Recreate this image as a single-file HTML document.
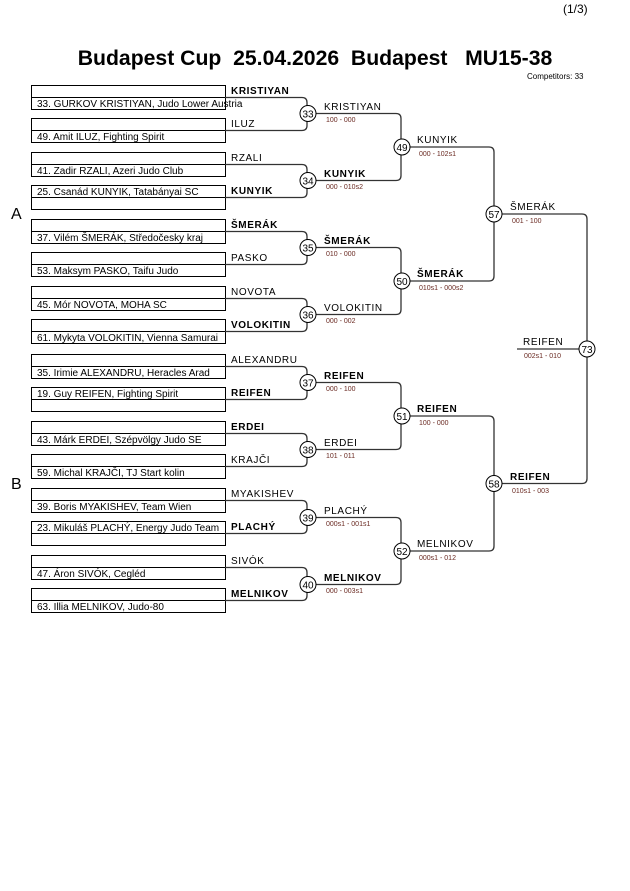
<!DOCTYPE html>
<html><head><meta charset="utf-8"><style>
html,body{margin:0;padding:0;background:#fff;}
svg{display:block;font-family:"Liberation Sans",Arial,sans-serif;}
.e{font-size:10px;fill:#000;}
.l{font-size:10px;fill:#000;letter-spacing:0.6px;}
.b{font-weight:bold;}
.s{font-size:7px;fill:#6a2a22;}
.c{font-size:10px;fill:#000;text-anchor:middle;}
.t{white-space:pre;}
</style></head><body>
<svg width="630" height="891" viewBox="0 0 630 891" xmlns="http://www.w3.org/2000/svg">
<text x="563" y="13" font-size="12">(1/3)</text>
<text class="t" x="315" y="65" font-size="21.2" font-weight="bold" text-anchor="middle" xml:space="preserve">Budapest Cup  25.04.2026  Budapest   MU15-38</text>
<text x="527" y="79" font-size="8">Competitors: 33</text>
<text x="11" y="219" font-size="16">A</text>
<text x="11" y="489" font-size="16">B</text>

<g fill="none" stroke="#000" stroke-width="1">
<rect x="31.5" y="85.5" width="194" height="24"/><line x1="31.5" y1="97.5" x2="225.5" y2="97.5"/>
<rect x="31.5" y="118.5" width="194" height="24"/><line x1="31.5" y1="130.5" x2="225.5" y2="130.5"/>
<rect x="31.5" y="152.5" width="194" height="24"/><line x1="31.5" y1="164.5" x2="225.5" y2="164.5"/>
<rect x="31.5" y="185.5" width="194" height="24"/><line x1="31.5" y1="197.5" x2="225.5" y2="197.5"/>
<rect x="31.5" y="219.5" width="194" height="24"/><line x1="31.5" y1="231.5" x2="225.5" y2="231.5"/>
<rect x="31.5" y="252.5" width="194" height="24"/><line x1="31.5" y1="264.5" x2="225.5" y2="264.5"/>
<rect x="31.5" y="286.5" width="194" height="24"/><line x1="31.5" y1="298.5" x2="225.5" y2="298.5"/>
<rect x="31.5" y="319.5" width="194" height="24"/><line x1="31.5" y1="331.5" x2="225.5" y2="331.5"/>
<rect x="31.5" y="354.5" width="194" height="24"/><line x1="31.5" y1="366.5" x2="225.5" y2="366.5"/>
<rect x="31.5" y="387.5" width="194" height="24"/><line x1="31.5" y1="399.5" x2="225.5" y2="399.5"/>
<rect x="31.5" y="421.5" width="194" height="24"/><line x1="31.5" y1="433.5" x2="225.5" y2="433.5"/>
<rect x="31.5" y="454.5" width="194" height="24"/><line x1="31.5" y1="466.5" x2="225.5" y2="466.5"/>
<rect x="31.5" y="488.5" width="194" height="24"/><line x1="31.5" y1="500.5" x2="225.5" y2="500.5"/>
<rect x="31.5" y="521.5" width="194" height="24"/><line x1="31.5" y1="533.5" x2="225.5" y2="533.5"/>
<rect x="31.5" y="555.5" width="194" height="24"/><line x1="31.5" y1="567.5" x2="225.5" y2="567.5"/>
<rect x="31.5" y="588.5" width="194" height="24"/><line x1="31.5" y1="600.5" x2="225.5" y2="600.5"/>
</g>
<g fill="none" stroke="#333" stroke-width="1.3">
<path d="M225,97.5H302Q307,97.5 307,102.5V125.5Q307,130.5 302,130.5H225"/>
<path d="M225,164.5H302Q307,164.5 307,169.5V192.5Q307,197.5 302,197.5H225"/>
<path d="M225,231.5H302Q307,231.5 307,236.5V259.5Q307,264.5 302,264.5H225"/>
<path d="M225,298.5H302Q307,298.5 307,303.5V326.5Q307,331.5 302,331.5H225"/>
<path d="M225,366.5H302Q307,366.5 307,371.5V394.5Q307,399.5 302,399.5H225"/>
<path d="M225,433.5H302Q307,433.5 307,438.5V461.5Q307,466.5 302,466.5H225"/>
<path d="M225,500.5H302Q307,500.5 307,505.5V528.5Q307,533.5 302,533.5H225"/>
<path d="M225,567.5H302Q307,567.5 307,572.5V595.5Q307,600.5 302,600.5H225"/>
<path d="M308,113.5H396Q401,113.5 401,118.5V175.5Q401,180.5 396,180.5H308"/>
<path d="M308,247.5H396Q401,247.5 401,252.5V309.5Q401,314.5 396,314.5H308"/>
<path d="M308,382.5H396Q401,382.5 401,387.5V444.5Q401,449.5 396,449.5H308"/>
<path d="M308,517.5H396Q401,517.5 401,522.5V579.5Q401,584.5 396,584.5H308"/>
<path d="M402,147H489Q494,147 494,152V276Q494,281 489,281H402"/>
<path d="M402,416H489Q494,416 494,421V546Q494,551 489,551H402"/>
<path d="M494,214H582Q587,214 587,219V478.5Q587,483.5 582,483.5H494"/>
<line x1="517" y1="349" x2="587" y2="349"/>
</g>
<g fill="#fff" stroke="#000" stroke-width="1">
<circle cx="308" cy="113.5" r="8"/><circle cx="308" cy="180.5" r="8"/><circle cx="308" cy="247.5" r="8"/><circle cx="308" cy="314.5" r="8"/>
<circle cx="308" cy="382.5" r="8"/><circle cx="308" cy="449.5" r="8"/><circle cx="308" cy="517.5" r="8"/><circle cx="308" cy="584.5" r="8"/>
<circle cx="402" cy="147" r="8"/><circle cx="402" cy="281" r="8"/><circle cx="402" cy="416" r="8"/><circle cx="402" cy="551" r="8"/>
<circle cx="494" cy="214" r="8"/><circle cx="494" cy="483.5" r="8"/>
<circle cx="587" cy="349" r="8"/>
</g>
<g class="c">
<text x="308" y="117.5">33</text><text x="308" y="184.5">34</text><text x="308" y="251.5">35</text><text x="308" y="318.5">36</text>
<text x="308" y="386.5">37</text><text x="308" y="453.5">38</text><text x="308" y="521.5">39</text><text x="308" y="588.5">40</text>
<text x="402" y="151">49</text><text x="402" y="285">50</text><text x="402" y="420">51</text><text x="402" y="555">52</text>
<text x="494" y="218">57</text><text x="494" y="487.5">58</text>
<text x="587" y="353">73</text>
</g>
<g class="e">
<text x="37" y="107">33. GURKOV KRISTIYAN, Judo Lower Austria</text>
<text x="37" y="140">49. Amit ILUZ, Fighting Spirit</text>
<text x="37" y="174">41. Zadir RZALI, Azeri Judo Club</text>
<text x="37" y="195">25. Csanád KUNYIK, Tatabányai SC</text>
<text x="37" y="241">37. Vilém ŠMERÁK, Středočesky kraj</text>
<text x="37" y="274">53. Maksym PASKO, Taifu Judo</text>
<text x="37" y="308">45. Mór NOVOTA, MOHA SC</text>
<text x="37" y="341">61. Mykyta VOLOKITIN, Vienna Samurai</text>
<text x="37" y="376">35. Irimie ALEXANDRU, Heracles Arad</text>
<text x="37" y="397">19. Guy REIFEN, Fighting Spirit</text>
<text x="37" y="443">43. Márk ERDEI, Szépvölgy Judo SE</text>
<text x="37" y="476">59. Michal KRAJČI, TJ Start kolin</text>
<text x="37" y="510">39. Boris MYAKISHEV, Team Wien</text>
<text x="37" y="531">23. Mikuláš PLACHÝ, Energy Judo Team</text>
<text x="37" y="577">47. Áron SIVÓK, Cegléd</text>
<text x="37" y="610">63. Illia MELNIKOV, Judo-80</text>
</g>
<g class="l">
<text x="231" y="94" class="l b">KRISTIYAN</text>
<text x="231" y="127">ILUZ</text>
<text x="231" y="161">RZALI</text>
<text x="231" y="194" class="l b">KUNYIK</text>
<text x="231" y="228" class="l b">ŠMERÁK</text>
<text x="231" y="261">PASKO</text>
<text x="231" y="295">NOVOTA</text>
<text x="231" y="328" class="l b">VOLOKITIN</text>
<text x="231" y="363">ALEXANDRU</text>
<text x="231" y="396" class="l b">REIFEN</text>
<text x="231" y="430" class="l b">ERDEI</text>
<text x="231" y="463">KRAJČI</text>
<text x="231" y="497">MYAKISHEV</text>
<text x="231" y="530" class="l b">PLACHÝ</text>
<text x="231" y="564">SIVÓK</text>
<text x="231" y="597" class="l b">MELNIKOV</text>

<text x="324" y="110">KRISTIYAN</text>
<text x="324" y="177" class="l b">KUNYIK</text>
<text x="324" y="244" class="l b">ŠMERÁK</text>
<text x="324" y="311">VOLOKITIN</text>
<text x="324" y="379" class="l b">REIFEN</text>
<text x="324" y="446">ERDEI</text>
<text x="324" y="514">PLACHÝ</text>
<text x="324" y="581" class="l b">MELNIKOV</text>

<text x="417" y="143">KUNYIK</text>
<text x="417" y="277" class="l b">ŠMERÁK</text>
<text x="417" y="412" class="l b">REIFEN</text>
<text x="417" y="547">MELNIKOV</text>

<text x="510" y="210">ŠMERÁK</text>
<text x="510" y="480" class="l b">REIFEN</text>
<text x="523" y="345">REIFEN</text>
</g>
<g class="s">
<text x="326" y="122">100 - 000</text>
<text x="326" y="189">000 - 010s2</text>
<text x="326" y="256">010 - 000</text>
<text x="326" y="323">000 - 002</text>
<text x="326" y="391">000 - 100</text>
<text x="326" y="458">101 - 011</text>
<text x="326" y="526">000s1 - 001s1</text>
<text x="326" y="593">000 - 003s1</text>
<text x="419" y="156">000 - 102s1</text>
<text x="419" y="290">010s1 - 000s2</text>
<text x="419" y="425">100 - 000</text>
<text x="419" y="560">000s1 - 012</text>
<text x="512" y="223">001 - 100</text>
<text x="512" y="493">010s1 - 003</text>
<text x="524" y="358">002s1 - 010</text>
</g>
</svg>
</body></html>
